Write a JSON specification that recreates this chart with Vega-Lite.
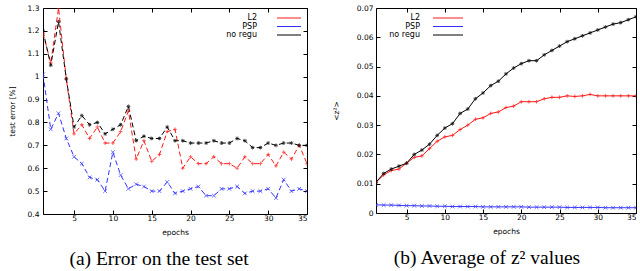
{
  "$schema": "https://vega.github.io/schema/vega-lite/v6.json",
  "padding": {"left": 7, "top": 3, "right": 4, "bottom": 0},
  "background": "white",
  "config": {
    "view": {"stroke": "black", "strokeWidth": 1},
    "axis": {"labelFont": "DejaVu Sans", "labelFontSize": 7.5, "titleFont": "DejaVu Sans", "titleFontSize": 7.5, "titleFontWeight": "normal", "grid": false, "domain": false, "tickColor": "black", "tickSize": -4, "labelColor": "black", "titleColor": "black"},
    "axisX": {"labelPadding": 4},
    "legend": {"labelFont": "DejaVu Sans", "labelFontSize": 8, "rowPadding": 0.5, "padding": 2, "symbolSize": 36, "symbolStrokeWidth": 1, "labelAlign": "right", "title": null, "orient": "none"},
    "title": {"font": "Liberation Serif", "fontSize": 19.5, "fontWeight": "normal", "orient": "bottom", "offset": 14, "color": "black"}
  },
  "datasets": {
    "err": [
      {"epoch":1,"series":"L2","v":1.19},{"epoch":2,"series":"L2","v":1.06},{"epoch":3,"series":"L2","v":1.30},{"epoch":4,"series":"L2","v":0.99},{"epoch":5,"series":"L2","v":0.75},{"epoch":6,"series":"L2","v":0.79},{"epoch":7,"series":"L2","v":0.73},{"epoch":8,"series":"L2","v":0.78},{"epoch":9,"series":"L2","v":0.71},{"epoch":10,"series":"L2","v":0.71},{"epoch":11,"series":"L2","v":0.76},{"epoch":12,"series":"L2","v":0.85},{"epoch":13,"series":"L2","v":0.64},{"epoch":14,"series":"L2","v":0.72},{"epoch":15,"series":"L2","v":0.63},{"epoch":16,"series":"L2","v":0.66},{"epoch":17,"series":"L2","v":0.76},{"epoch":18,"series":"L2","v":0.77},{"epoch":19,"series":"L2","v":0.60},{"epoch":20,"series":"L2","v":0.65},{"epoch":21,"series":"L2","v":0.62},{"epoch":22,"series":"L2","v":0.62},{"epoch":23,"series":"L2","v":0.65},{"epoch":24,"series":"L2","v":0.62},{"epoch":25,"series":"L2","v":0.62},{"epoch":26,"series":"L2","v":0.60},{"epoch":27,"series":"L2","v":0.65},{"epoch":28,"series":"L2","v":0.62},{"epoch":29,"series":"L2","v":0.62},{"epoch":30,"series":"L2","v":0.66},{"epoch":31,"series":"L2","v":0.61},{"epoch":32,"series":"L2","v":0.67},{"epoch":33,"series":"L2","v":0.64},{"epoch":34,"series":"L2","v":0.70},{"epoch":35,"series":"L2","v":0.62},
      {"epoch":1,"series":"PSP","v":1.01},{"epoch":2,"series":"PSP","v":0.77},{"epoch":3,"series":"PSP","v":0.84},{"epoch":4,"series":"PSP","v":0.73},{"epoch":5,"series":"PSP","v":0.65},{"epoch":6,"series":"PSP","v":0.62},{"epoch":7,"series":"PSP","v":0.56},{"epoch":8,"series":"PSP","v":0.55},{"epoch":9,"series":"PSP","v":0.50},{"epoch":10,"series":"PSP","v":0.67},{"epoch":11,"series":"PSP","v":0.57},{"epoch":12,"series":"PSP","v":0.51},{"epoch":13,"series":"PSP","v":0.53},{"epoch":14,"series":"PSP","v":0.52},{"epoch":15,"series":"PSP","v":0.50},{"epoch":16,"series":"PSP","v":0.50},{"epoch":17,"series":"PSP","v":0.54},{"epoch":18,"series":"PSP","v":0.49},{"epoch":19,"series":"PSP","v":0.50},{"epoch":20,"series":"PSP","v":0.51},{"epoch":21,"series":"PSP","v":0.52},{"epoch":22,"series":"PSP","v":0.48},{"epoch":23,"series":"PSP","v":0.48},{"epoch":24,"series":"PSP","v":0.51},{"epoch":25,"series":"PSP","v":0.51},{"epoch":26,"series":"PSP","v":0.52},{"epoch":27,"series":"PSP","v":0.49},{"epoch":28,"series":"PSP","v":0.50},{"epoch":29,"series":"PSP","v":0.50},{"epoch":30,"series":"PSP","v":0.51},{"epoch":31,"series":"PSP","v":0.47},{"epoch":32,"series":"PSP","v":0.55},{"epoch":33,"series":"PSP","v":0.50},{"epoch":34,"series":"PSP","v":0.51},{"epoch":35,"series":"PSP","v":0.50},
      {"epoch":1,"series":"no regu","v":1.20},{"epoch":2,"series":"no regu","v":1.05},{"epoch":3,"series":"no regu","v":1.24},{"epoch":4,"series":"no regu","v":0.99},{"epoch":5,"series":"no regu","v":0.78},{"epoch":6,"series":"no regu","v":0.83},{"epoch":7,"series":"no regu","v":0.79},{"epoch":8,"series":"no regu","v":0.80},{"epoch":9,"series":"no regu","v":0.75},{"epoch":10,"series":"no regu","v":0.77},{"epoch":11,"series":"no regu","v":0.79},{"epoch":12,"series":"no regu","v":0.87},{"epoch":13,"series":"no regu","v":0.72},{"epoch":14,"series":"no regu","v":0.74},{"epoch":15,"series":"no regu","v":0.73},{"epoch":16,"series":"no regu","v":0.73},{"epoch":17,"series":"no regu","v":0.78},{"epoch":18,"series":"no regu","v":0.72},{"epoch":19,"series":"no regu","v":0.72},{"epoch":20,"series":"no regu","v":0.71},{"epoch":21,"series":"no regu","v":0.71},{"epoch":22,"series":"no regu","v":0.71},{"epoch":23,"series":"no regu","v":0.72},{"epoch":24,"series":"no regu","v":0.71},{"epoch":25,"series":"no regu","v":0.71},{"epoch":26,"series":"no regu","v":0.73},{"epoch":27,"series":"no regu","v":0.72},{"epoch":28,"series":"no regu","v":0.69},{"epoch":29,"series":"no regu","v":0.69},{"epoch":30,"series":"no regu","v":0.71},{"epoch":31,"series":"no regu","v":0.70},{"epoch":32,"series":"no regu","v":0.71},{"epoch":33,"series":"no regu","v":0.71},{"epoch":34,"series":"no regu","v":0.70},{"epoch":35,"series":"no regu","v":0.70}
    ],
    "z2": [
      {"epoch":1,"series":"L2","v":0.0105},{"epoch":2,"series":"L2","v":0.013},{"epoch":3,"series":"L2","v":0.0145},{"epoch":4,"series":"L2","v":0.015},{"epoch":5,"series":"L2","v":0.017},{"epoch":6,"series":"L2","v":0.019},{"epoch":7,"series":"L2","v":0.0195},{"epoch":8,"series":"L2","v":0.022},{"epoch":9,"series":"L2","v":0.0245},{"epoch":10,"series":"L2","v":0.026},{"epoch":11,"series":"L2","v":0.0265},{"epoch":12,"series":"L2","v":0.0285},{"epoch":13,"series":"L2","v":0.030},{"epoch":14,"series":"L2","v":0.032},{"epoch":15,"series":"L2","v":0.0325},{"epoch":16,"series":"L2","v":0.034},{"epoch":17,"series":"L2","v":0.0345},{"epoch":18,"series":"L2","v":0.036},{"epoch":19,"series":"L2","v":0.0365},{"epoch":20,"series":"L2","v":0.038},{"epoch":21,"series":"L2","v":0.038},{"epoch":22,"series":"L2","v":0.038},{"epoch":23,"series":"L2","v":0.039},{"epoch":24,"series":"L2","v":0.0395},{"epoch":25,"series":"L2","v":0.0395},{"epoch":26,"series":"L2","v":0.040},{"epoch":27,"series":"L2","v":0.0398},{"epoch":28,"series":"L2","v":0.040},{"epoch":29,"series":"L2","v":0.0405},{"epoch":30,"series":"L2","v":0.040},{"epoch":31,"series":"L2","v":0.040},{"epoch":32,"series":"L2","v":0.040},{"epoch":33,"series":"L2","v":0.040},{"epoch":34,"series":"L2","v":0.040},{"epoch":35,"series":"L2","v":0.040},
      {"epoch":1,"series":"PSP","v":0.0028},{"epoch":2,"series":"PSP","v":0.0027},{"epoch":3,"series":"PSP","v":0.0027},{"epoch":4,"series":"PSP","v":0.0026},{"epoch":5,"series":"PSP","v":0.0025},{"epoch":6,"series":"PSP","v":0.0025},{"epoch":7,"series":"PSP","v":0.0024},{"epoch":8,"series":"PSP","v":0.0024},{"epoch":9,"series":"PSP","v":0.0023},{"epoch":10,"series":"PSP","v":0.0023},{"epoch":11,"series":"PSP","v":0.0022},{"epoch":12,"series":"PSP","v":0.0022},{"epoch":13,"series":"PSP","v":0.0022},{"epoch":14,"series":"PSP","v":0.0022},{"epoch":15,"series":"PSP","v":0.0021},{"epoch":16,"series":"PSP","v":0.0021},{"epoch":17,"series":"PSP","v":0.0021},{"epoch":18,"series":"PSP","v":0.0021},{"epoch":19,"series":"PSP","v":0.0021},{"epoch":20,"series":"PSP","v":0.0021},{"epoch":21,"series":"PSP","v":0.0020},{"epoch":22,"series":"PSP","v":0.0020},{"epoch":23,"series":"PSP","v":0.0020},{"epoch":24,"series":"PSP","v":0.0020},{"epoch":25,"series":"PSP","v":0.0020},{"epoch":26,"series":"PSP","v":0.0019},{"epoch":27,"series":"PSP","v":0.0019},{"epoch":28,"series":"PSP","v":0.0019},{"epoch":29,"series":"PSP","v":0.0019},{"epoch":30,"series":"PSP","v":0.0019},{"epoch":31,"series":"PSP","v":0.0018},{"epoch":32,"series":"PSP","v":0.0018},{"epoch":33,"series":"PSP","v":0.0018},{"epoch":34,"series":"PSP","v":0.0018},{"epoch":35,"series":"PSP","v":0.0018},
      {"epoch":1,"series":"no regu","v":0.0105},{"epoch":2,"series":"no regu","v":0.0135},{"epoch":3,"series":"no regu","v":0.015},{"epoch":4,"series":"no regu","v":0.016},{"epoch":5,"series":"no regu","v":0.017},{"epoch":6,"series":"no regu","v":0.020},{"epoch":7,"series":"no regu","v":0.0215},{"epoch":8,"series":"no regu","v":0.0235},{"epoch":9,"series":"no regu","v":0.0265},{"epoch":10,"series":"no regu","v":0.029},{"epoch":11,"series":"no regu","v":0.0305},{"epoch":12,"series":"no regu","v":0.034},{"epoch":13,"series":"no regu","v":0.0355},{"epoch":14,"series":"no regu","v":0.039},{"epoch":15,"series":"no regu","v":0.041},{"epoch":16,"series":"no regu","v":0.0435},{"epoch":17,"series":"no regu","v":0.045},{"epoch":18,"series":"no regu","v":0.0475},{"epoch":19,"series":"no regu","v":0.0495},{"epoch":20,"series":"no regu","v":0.051},{"epoch":21,"series":"no regu","v":0.052},{"epoch":22,"series":"no regu","v":0.052},{"epoch":23,"series":"no regu","v":0.054},{"epoch":24,"series":"no regu","v":0.0555},{"epoch":25,"series":"no regu","v":0.057},{"epoch":26,"series":"no regu","v":0.0585},{"epoch":27,"series":"no regu","v":0.0595},{"epoch":28,"series":"no regu","v":0.0605},{"epoch":29,"series":"no regu","v":0.0615},{"epoch":30,"series":"no regu","v":0.0625},{"epoch":31,"series":"no regu","v":0.0635},{"epoch":32,"series":"no regu","v":0.0645},{"epoch":33,"series":"no regu","v":0.065},{"epoch":34,"series":"no regu","v":0.066},{"epoch":35,"series":"no regu","v":0.067}
    ]
  },
  "spacing": 23,
  "resolve": {"scale": {"color": "independent"}},
  "hconcat": [
    {
      "width": 264, "height": 206,
      "title": {"text": "(a) Error on the test set", "dx": -16},
      "data": {"name": "err"},
      "resolve": {"axis": {"x": "independent", "y": "independent"}},
      "layer": [
        {
          "mark": {"type": "line", "strokeWidth": 1, "strokeDash": [5, 3], "clip": true},
          "encoding": {
            "x": {"field": "epoch", "type": "quantitative", "scale": {"domain": [1, 35], "nice": false, "zero": false}, "axis": {"values": [5,10,15,20,25,30,35], "title": "epochs", "titlePadding": 7}},
            "y": {"field": "v", "type": "quantitative", "scale": {"domain": [0.4, 1.3], "nice": false, "zero": false}, "axis": {"values": [0.4,0.5,0.6,0.7,0.8,0.9,1.0,1.1,1.2,1.3], "format": ".1~f", "title": "test error [%]", "labelPadding": 8, "titlePadding": 11}},
            "color": {"field": "series", "type": "nominal", "scale": {"domain": ["L2","PSP","no regu"], "range": ["#ff1a1a","#3333ff","#000000"]}, "legend": {"legendX": 240, "legendY": 4, "symbolType": "M-4,0L4,0", "symbolStrokeWidth": 1, "labelOffset": -36}}
          }
        },
        {
          "transform": [{"filter": "datum.series === 'L2'"}],
          "mark": {"type": "point", "size": 14, "strokeWidth": 1, "clip": true, "color": "#ff1a1a", "shape": "M-1,0L1,0M0,-1L0,1"},
          "encoding": {
            "x": {"field": "epoch", "type": "quantitative", "scale": {"domain": [1, 35], "nice": false, "zero": false}, "axis": {"orient": "top", "values": [5,10,15,20,25,30,35], "labels": false, "title": null}},
            "y": {"field": "v", "type": "quantitative", "scale": {"domain": [0.4, 1.3], "nice": false, "zero": false}, "axis": {"orient": "right", "values": [0.4,0.5,0.6,0.7,0.8,0.9,1.0,1.1,1.2,1.3], "labels": false, "title": null}}
          }
        },
        {
          "transform": [{"filter": "datum.series === 'PSP'"}],
          "mark": {"type": "point", "size": 14, "strokeWidth": 1, "clip": true, "color": "#3333ff", "shape": "M-1,-1L1,1M1,-1L-1,1"},
          "encoding": {
            "x": {"field": "epoch", "type": "quantitative", "scale": {"domain": [1, 35], "nice": false, "zero": false}, "axis": null},
            "y": {"field": "v", "type": "quantitative", "scale": {"domain": [0.4, 1.3], "nice": false, "zero": false}, "axis": null}
          }
        },
        {
          "transform": [{"filter": "datum.series === 'no regu'"}],
          "mark": {"type": "point", "size": 14, "strokeWidth": 1, "clip": true, "color": "#000000", "shape": "M-1,0L1,0M0,-1L0,1M-0.7,-0.7L0.7,0.7M0.7,-0.7L-0.7,0.7"},
          "encoding": {
            "x": {"field": "epoch", "type": "quantitative", "scale": {"domain": [1, 35], "nice": false, "zero": false}, "axis": null},
            "y": {"field": "v", "type": "quantitative", "scale": {"domain": [0.4, 1.3], "nice": false, "zero": false}, "axis": null}
          }
        }
      ]
    },
    {
      "width": 260, "height": 205,
      "title": {"text": "(b) Average of z² values", "dx": -19},
      "data": {"name": "z2"},
      "resolve": {"axis": {"x": "independent", "y": "independent"}},
      "layer": [
        {
          "mark": {"type": "line", "strokeWidth": 1, "clip": true},
          "encoding": {
            "x": {"field": "epoch", "type": "quantitative", "scale": {"domain": [1, 35], "nice": false, "zero": false}, "axis": {"values": [5,10,15,20,25,30,35], "title": "epochs", "titlePadding": 7}},
            "y": {"field": "v", "type": "quantitative", "scale": {"domain": [0, 0.07], "nice": false}, "axis": {"values": [0,0.01,0.02,0.03,0.04,0.05,0.06,0.07], "format": ".2~f", "title": "<z²>", "labelPadding": 7, "titlePadding": 16}},
            "color": {"field": "series", "type": "nominal", "scale": {"domain": ["L2","PSP","no regu"], "range": ["#ff1a1a","#3333ff","#000000"]}, "legend": {"legendX": 66, "legendY": 4, "symbolType": "M-5,0L5,0", "symbolStrokeWidth": 1, "labelOffset": -32}}
          }
        },
        {
          "transform": [{"filter": "datum.series === 'L2'"}],
          "mark": {"type": "point", "size": 14, "strokeWidth": 1, "clip": true, "color": "#ff1a1a", "shape": "M-1,0L1,0M0,-1L0,1"},
          "encoding": {
            "x": {"field": "epoch", "type": "quantitative", "scale": {"domain": [1, 35], "nice": false, "zero": false}, "axis": {"orient": "top", "values": [5,10,15,20,25,30,35], "labels": false, "title": null}},
            "y": {"field": "v", "type": "quantitative", "scale": {"domain": [0, 0.07], "nice": false}, "axis": {"orient": "right", "values": [0,0.01,0.02,0.03,0.04,0.05,0.06,0.07], "labels": false, "title": null}}
          }
        },
        {
          "transform": [{"filter": "datum.series === 'PSP'"}],
          "mark": {"type": "point", "size": 14, "strokeWidth": 1, "clip": true, "color": "#3333ff", "shape": "M-1,-1L1,1M1,-1L-1,1"},
          "encoding": {
            "x": {"field": "epoch", "type": "quantitative", "scale": {"domain": [1, 35], "nice": false, "zero": false}, "axis": null},
            "y": {"field": "v", "type": "quantitative", "scale": {"domain": [0, 0.07], "nice": false}, "axis": null}
          }
        },
        {
          "transform": [{"filter": "datum.series === 'no regu'"}],
          "mark": {"type": "point", "size": 14, "strokeWidth": 1, "clip": true, "color": "#000000", "shape": "M-1,0L1,0M0,-1L0,1M-0.7,-0.7L0.7,0.7M0.7,-0.7L-0.7,0.7"},
          "encoding": {
            "x": {"field": "epoch", "type": "quantitative", "scale": {"domain": [1, 35], "nice": false, "zero": false}, "axis": null},
            "y": {"field": "v", "type": "quantitative", "scale": {"domain": [0, 0.07], "nice": false}, "axis": null}
          }
        }
      ]
    }
  ]
}
